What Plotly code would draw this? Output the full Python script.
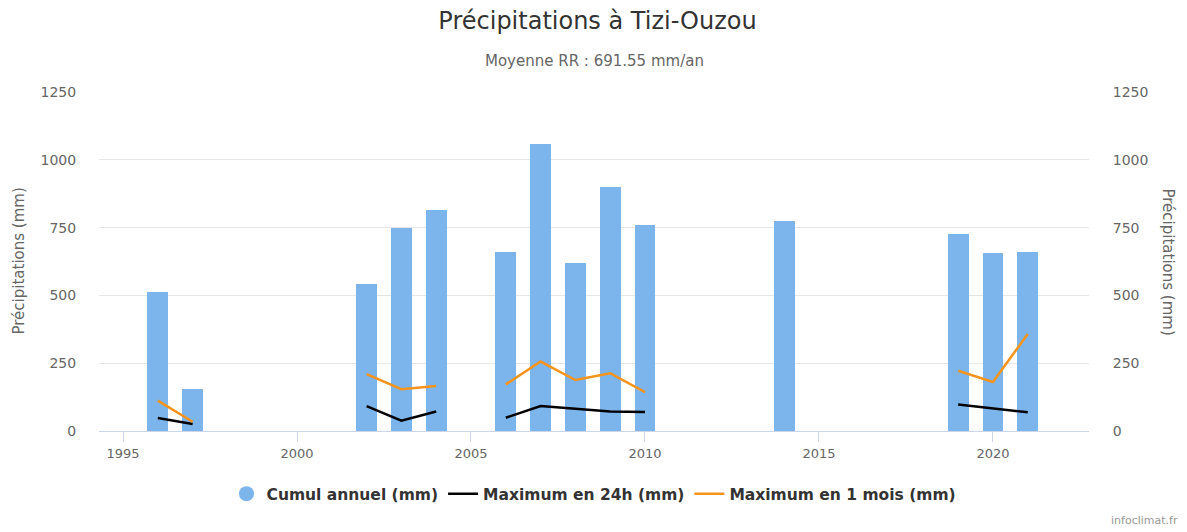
import plotly.graph_objects as go

# années 1996 -> 2021, None = pas de données
years = list(range(1996, 2022))
cumul_annuel = [512, 155, None, None, None, None, 542, 749, 815, None,
                660, 1058, 619, 900, 760, None, None, None, 774, None,
                None, None, None, 726, 656, 660]
max_24h = [48, 26, None, None, None, None, 92, 38, 72, None,
           49, 92, 82, 72, 70, None, None, None, None, None,
           None, None, None, 98, 84, 69]
max_1mois = [112, 34, None, None, None, None, 210, 154, 166, None,
             172, 256, 188, 213, 143, None, None, None, None, None,
             None, None, None, 222, 181, 358]
y_ticks = [0, 250, 500, 750, 1000, 1250]
x_ticks = [1995, 2000, 2005, 2010, 2015, 2020]

font_family = "DejaVu Sans"
bar_color = "#7cb5ec"
orange = "#f7941d"

fig = go.Figure()

fig.add_trace(go.Bar(
    x=years, y=cumul_annuel, width=0.6,
    marker=dict(color=bar_color, line=dict(width=0)),
    name="Cumul annuel (mm)", showlegend=False,
))
# entrée de légende ronde pour les barres
fig.add_trace(go.Scatter(
    x=[None], y=[None], mode="markers",
    marker=dict(color=bar_color, size=15, symbol="circle"),
    name="Cumul annuel (mm)",
))
fig.add_trace(go.Scatter(
    x=years, y=max_24h, mode="lines", connectgaps=False,
    line=dict(color="#000000", width=2.5),
    name="Maximum en 24h (mm)",
))
fig.add_trace(go.Scatter(
    x=years, y=max_1mois, mode="lines", connectgaps=False,
    line=dict(color=orange, width=2.5),
    name="Maximum en 1 mois (mm)",
))
# axe de droite (miroir)
fig.add_trace(go.Scatter(x=[None], y=[None], yaxis="y2", showlegend=False))

# la page ajoute 8 px de marge autour du graphique
fig.update_layout(
    width=1179, height=524,
    margin=dict(l=91, r=98, t=84, b=101),
    paper_bgcolor="white", plot_bgcolor="white",
    font=dict(family=font_family, color="#666666", size=13),
    title=dict(text="Précipitations à Tizi-Ouzou", x=0.5, xanchor="center",
               y=1 - 13 / 524, yanchor="middle",
               font=dict(size=24, color="#333333", family=font_family)),
    bargap=0,
    xaxis=dict(
        range=[1994.31, 2022.76], tickvals=x_ticks, automargin=False,
        showgrid=False, zeroline=False,
        showline=True, linecolor="#ccd6eb", linewidth=1,
        ticks="outside", ticklen=10, tickcolor="#ccd6eb",
        tickfont=dict(size=13, color="#666666"),
    ),
    yaxis=dict(
        range=[0, 1250], tickvals=y_ticks, automargin=False,
        showgrid=True, gridcolor="#e6e6e6", gridwidth=1,
        zeroline=False, showline=False,
        ticks="outside", ticklen=19, tickcolor="rgba(0,0,0,0)",
        tickfont=dict(size=14, color="#666666"),
    ),
    yaxis2=dict(
        range=[0, 1250], tickvals=y_ticks, overlaying="y", side="right",
        automargin=False,
        showgrid=False, zeroline=False, showline=False,
        ticks="outside", ticklen=20, tickcolor="rgba(0,0,0,0)",
        tickfont=dict(size=14, color="#666666"),
    ),
    legend=dict(
        orientation="h", x=0.5, xanchor="center", y=-0.186, yanchor="middle",
        font=dict(size=15.5, color="#333333", family=font_family, weight="bold"),
        itemwidth=30, bgcolor="rgba(0,0,0,0)",
    ),
    annotations=[
        dict(text="Moyenne RR : 691.55 mm/an", xref="paper", yref="paper",
             x=0.5, y=1 + (92 - 61) / 339, xanchor="center", yanchor="middle",
             showarrow=False, font=dict(size=15, color="#666666")),
        dict(text="Précipitations (mm)", xref="paper", yref="paper",
             x=(18 - 99) / 990, y=0.5, xanchor="center", yanchor="middle",
             textangle=-90, showarrow=False, font=dict(size=15, color="#666666")),
        dict(text="Précipitations (mm)", xref="paper", yref="paper",
             x=(1168 - 99) / 990, y=0.5, xanchor="center", yanchor="middle",
             textangle=90, showarrow=False, font=dict(size=15, color="#666666")),
        dict(text="infoclimat.fr", xref="paper", yref="paper",
             x=(1180 - 99) / 990, y=(431 - 520) / 339, xanchor="right",
             yanchor="middle", showarrow=False,
             font=dict(size=11, color="#999999")),
    ],
)

fig.write_html("out.html")
